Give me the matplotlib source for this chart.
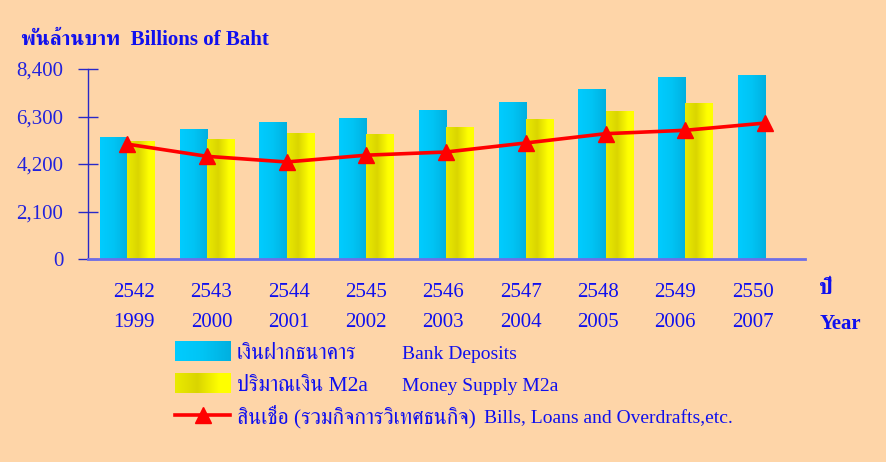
import numpy as np
import matplotlib
matplotlib.use("Agg")
import matplotlib.pyplot as plt
from matplotlib.colors import LinearSegmentedColormap
from matplotlib.lines import Line2D

# data (billions of baht)
years_be = ["2542", "2543", "2544", "2545", "2546", "2547", "2548", "2549", "2550"]
years_ad = ["1999", "2000", "2001", "2002", "2003", "2004", "2005", "2006", "2007"]
deposits = [5380, 5730, 6040, 6220, 6570, 6930, 7500, 8030, 8120]
m2a = [5200, 5290, 5560, 5510, 5820, 6180, 6530, 6880, np.nan]
credit = [5080, 4540, 4290, 4590, 4730, 5130, 5540, 5690, 6010]
yticks = [0, 2100, 4200, 6300, 8400]

FONT = ["Liberation Serif", "FreeSerif"]
BG = "#FED5A8"
TXT = "#1010EE"

blue_cm = LinearSegmentedColormap.from_list("b", ["#00CCFF", "#00C4F4", "#00B0E0"])
yell_cm = LinearSegmentedColormap.from_list(
    "y", [(0, "#EAEA00"), (0.4, "#DAD500"), (0.8, "#FFFF00"), (1, "#FFFF00")])
grad = np.linspace(0, 1, 64).reshape(1, -1)

fig = plt.figure(figsize=(8.86, 4.62), dpi=100, facecolor=BG)
ax = fig.add_axes([88 / 886, 1 - 259 / 462, 717 / 886, 190 / 462], facecolor=BG)

x = np.arange(len(years_be))
w = 0.34
b1 = ax.bar(x - w, deposits, w, align="edge", color="none", zorder=2)
b2 = ax.bar(x, m2a, w, align="edge", color="none", zorder=2)


def fill_gradient(bars, cmap):
    # paint each bar with a left-to-right gradient
    for r in bars:
        h = r.get_height()
        if np.isnan(h):
            continue
        x0 = r.get_x()
        ax.imshow(grad, cmap=cmap, aspect="auto", zorder=2,
                  extent=[x0, x0 + r.get_width(), 0, h])


fill_gradient(b1, blue_cm)
fill_gradient(b2, yell_cm)

ax.plot(x, credit, color="#FF0000", lw=2.6, marker="^", markersize=11.5,
        markeredgecolor="#FF0000", zorder=4)

ax.set_xlim(-0.49, 8.5)
ax.set_ylim(0, 8400)

for s in ["top", "right"]:
    ax.spines[s].set_visible(False)
ax.spines["left"].set_color("#2828C8")
ax.spines["left"].set_linewidth(1.0)
ax.spines["bottom"].set_color("#6E6EE6")
ax.spines["bottom"].set_linewidth(2.0)
ax.spines["bottom"].set_zorder(5)

ax.set_yticks(yticks)
ax.set_yticklabels([f"{v:,}" for v in yticks])
ax.tick_params(axis="y", direction="inout", length=14.4, width=1.0,
               color="#2828C8", pad=10.5, labelsize=15, labelcolor="#2222DD")
for lab in ax.get_yticklabels():
    lab.set_family(FONT)
ax.set_xticks([])

# two-row year labels
for i in range(len(years_be)):
    xp = 0.09 + i * 0.969
    ax.text(xp, -0.175, years_be[i], transform=ax.get_xaxis_transform(),
            ha="center", va="center", fontsize=15, color=TXT, family=FONT)
    ax.text(xp, -0.335, years_ad[i], transform=ax.get_xaxis_transform(),
            ha="center", va="center", fontsize=15, color=TXT, family=FONT)

fig.text(826 / 886, 1 - 289 / 462, "ปี", ha="center", va="center",
         fontsize=16, fontweight="bold", color=TXT, family=FONT)
fig.text(840 / 886, 1 - 324 / 462, "Year", ha="center", va="center",
         fontsize=15, fontweight="bold", color=TXT, family=FONT)

# title
fig.text(21 / 886, 1 - 40 / 462, "พันล้านบาท  Billions of Baht", ha="left", va="center",
         fontsize=15, fontweight="bold", color=TXT, family=FONT)

# legend built by hand
px0, px1 = 175 / 886, 230 / 886
rows = [1 - 351 / 462, 1 - 383 / 462, 1 - 415 / 462]
baselines = [1 - 359 / 462, 1 - 391 / 462, 1 - 423 / 462]
for yc, cm in zip(rows[:2], [blue_cm, yell_cm]):
    sw = fig.add_axes([px0, yc - 10 / 462, px1 - px0, 20 / 462])
    sw.imshow(grad, cmap=cm, aspect="auto")
    sw.set_axis_off()
fig.add_artist(Line2D([px0, px1], [rows[2], rows[2]], transform=fig.transFigure,
                      color="#FF0000", lw=2.6))
fig.add_artist(Line2D([203 / 886], [rows[2]], transform=fig.transFigure,
                      color="#FF0000", marker="^", markersize=11.5))

thai_labels = ["เงินฝากธนาคาร", "ปริมาณเงิน M2a", "สินเชื่อ (รวมกิจการวิเทศธนกิจ)"]
eng_labels = ["Bank Deposits", "Money Supply M2a", "Bills, Loans and Overdrafts,etc."]
eng_x = [402, 402, 484]
for yb, t in zip(baselines, thai_labels):
    fig.text(237 / 886, yb, t, ha="left", va="baseline", fontsize=15.5,
             color=TXT, family=FONT)
for yb, t, ex in zip(baselines, eng_labels, eng_x):
    fig.text(ex / 886, yb, t, ha="left", va="baseline", fontsize=14,
             color=TXT, family=FONT)

fig.savefig("out.png", dpi=100, facecolor=BG)
